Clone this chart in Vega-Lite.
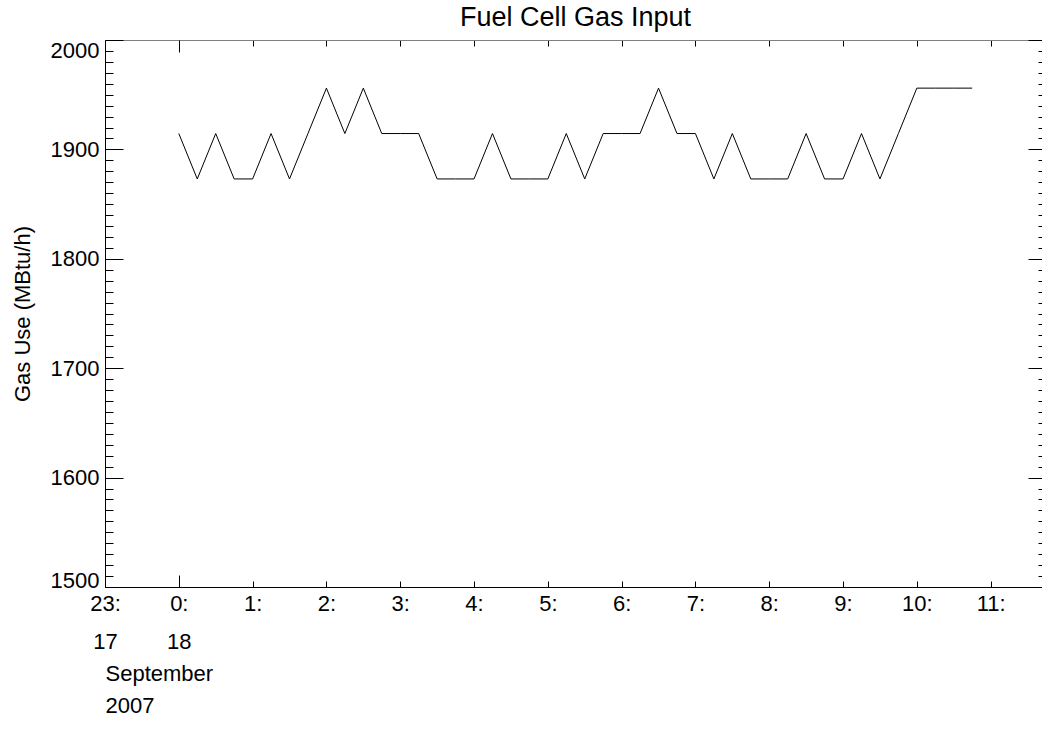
{
  "$schema": "https://vega.github.io/schema/vega-lite/v6.json",
  "width": 941,
  "height": 547,
  "autosize": {"type": "none"},
  "padding": {"left": 105, "top": 40, "right": -4, "bottom": 143},
  "background": "white",
  "title": {"text": "Fuel Cell Gas Input", "font": "Liberation Sans", "fontSize": 27, "fontWeight": "normal", "color": "black", "anchor": "middle", "frame": "group", "baseline": "alphabetic", "offset": -14},
  "config": {
    "view": {"stroke": null},
    "axis": {"labelFont": "Liberation Sans", "titleFont": "Liberation Sans", "labelColor": "black", "titleColor": "black", "domainColor": "black", "tickColor": "black", "grid": false, "labelFontSize": 22, "titleFontSize": 22, "titleFontWeight": "normal", "tickWidth": 1, "domainWidth": 1}
  },
  "data": {"values": [
    {"time": "2007-09-18T00:00", "gas": 1914.5},
    {"time": "2007-09-18T00:15", "gas": 1873},
    {"time": "2007-09-18T00:30", "gas": 1914.5},
    {"time": "2007-09-18T00:45", "gas": 1873},
    {"time": "2007-09-18T01:00", "gas": 1873},
    {"time": "2007-09-18T01:15", "gas": 1914.5},
    {"time": "2007-09-18T01:30", "gas": 1873},
    {"time": "2007-09-18T01:45", "gas": 1914.5},
    {"time": "2007-09-18T02:00", "gas": 1956},
    {"time": "2007-09-18T02:15", "gas": 1914.5},
    {"time": "2007-09-18T02:30", "gas": 1956},
    {"time": "2007-09-18T02:45", "gas": 1914.5},
    {"time": "2007-09-18T03:00", "gas": 1914.5},
    {"time": "2007-09-18T03:15", "gas": 1914.5},
    {"time": "2007-09-18T03:30", "gas": 1873},
    {"time": "2007-09-18T03:45", "gas": 1873},
    {"time": "2007-09-18T04:00", "gas": 1873},
    {"time": "2007-09-18T04:15", "gas": 1914.5},
    {"time": "2007-09-18T04:30", "gas": 1873},
    {"time": "2007-09-18T04:45", "gas": 1873},
    {"time": "2007-09-18T05:00", "gas": 1873},
    {"time": "2007-09-18T05:15", "gas": 1914.5},
    {"time": "2007-09-18T05:30", "gas": 1873},
    {"time": "2007-09-18T05:45", "gas": 1914.5},
    {"time": "2007-09-18T06:00", "gas": 1914.5},
    {"time": "2007-09-18T06:15", "gas": 1914.5},
    {"time": "2007-09-18T06:30", "gas": 1956},
    {"time": "2007-09-18T06:45", "gas": 1914.5},
    {"time": "2007-09-18T07:00", "gas": 1914.5},
    {"time": "2007-09-18T07:15", "gas": 1873},
    {"time": "2007-09-18T07:30", "gas": 1914.5},
    {"time": "2007-09-18T07:45", "gas": 1873},
    {"time": "2007-09-18T08:00", "gas": 1873},
    {"time": "2007-09-18T08:15", "gas": 1873},
    {"time": "2007-09-18T08:30", "gas": 1914.5},
    {"time": "2007-09-18T08:45", "gas": 1873},
    {"time": "2007-09-18T09:00", "gas": 1873},
    {"time": "2007-09-18T09:15", "gas": 1914.5},
    {"time": "2007-09-18T09:30", "gas": 1873},
    {"time": "2007-09-18T09:45", "gas": 1914.5},
    {"time": "2007-09-18T10:00", "gas": 1956},
    {"time": "2007-09-18T10:15", "gas": 1956},
    {"time": "2007-09-18T10:30", "gas": 1956},
    {"time": "2007-09-18T10:45", "gas": 1956}
  ]},
  "resolve": {"scale": {"x": "independent", "y": "independent"}, "axis": {"x": "independent", "y": "independent"}},
  "layer": [
    {
      "mark": {"type": "line", "color": "black", "strokeWidth": 1},
      "encoding": {
        "x": {"field": "time", "type": "temporal",
          "scale": {"domain": [{"year": 2007, "month": 9, "date": 17, "hours": 23}, {"year": 2007, "month": 9, "date": 18, "hours": 11, "minutes": 45}]},
          "axis": {"orient": "bottom",
            "values": [{"year": 2007, "month": 9, "date": 17, "hours": 23}, {"year": 2007, "month": 9, "date": 18, "hours": 0}, {"year": 2007, "month": 9, "date": 18, "hours": 1}, {"year": 2007, "month": 9, "date": 18, "hours": 2}, {"year": 2007, "month": 9, "date": 18, "hours": 3}, {"year": 2007, "month": 9, "date": 18, "hours": 4}, {"year": 2007, "month": 9, "date": 18, "hours": 5}, {"year": 2007, "month": 9, "date": 18, "hours": 6}, {"year": 2007, "month": 9, "date": 18, "hours": 7}, {"year": 2007, "month": 9, "date": 18, "hours": 8}, {"year": 2007, "month": 9, "date": 18, "hours": 9}, {"year": 2007, "month": 9, "date": 18, "hours": 10}, {"year": 2007, "month": 9, "date": 18, "hours": 11}],
            "tickSize": -6,
            "labelExpr": "(hours(datum.value) == 23 || hours(datum.value) == 0) ? [hours(datum.value) + ':', '' + date(datum.value)] : hours(datum.value) + ':'",
            "labelBaseline": "alphabetic", "labelLineHeight": 38, "labelPadding": 29, "labelAlign": "center",
            "labelOverlap": false, "labelBound": false, "labelFlush": false,
            "title": ["September", "2007"], "titleAnchor": "start", "titleAlign": "left", "titleBaseline": "top", "titleLineHeight": 32, "titlePadding": 11}},
        "y": {"field": "gas", "type": "quantitative",
          "scale": {"domain": [1500, 2000], "zero": false, "nice": false},
          "axis": {"orient": "left", "values": [1500, 1600, 1700, 1800, 1900, 2000], "tickSize": -18, "labelPadding": 24, "format": "d",
            "labelBaseline": {"condition": [{"test": "datum.value == 2000", "value": "top"}, {"test": "datum.value == 1500", "value": "alphabetic"}], "value": "middle"},
            "labelFlush": false, "labelOverlap": false, "labelBound": false,
            "title": "Gas Use (MBtu/h)", "titlePadding": 16}}
      }
    },
    {
      "mark": {"type": "line", "strokeOpacity": 0},
      "encoding": {
        "x": {"field": "time", "type": "temporal",
          "scale": {"domain": [{"year": 2007, "month": 9, "date": 17, "hours": 23}, {"year": 2007, "month": 9, "date": 18, "hours": 11, "minutes": 45}]},
          "axis": {"orient": "top",
            "values": [{"year": 2007, "month": 9, "date": 17, "hours": 23}, {"year": 2007, "month": 9, "date": 18, "hours": 0}, {"year": 2007, "month": 9, "date": 18, "hours": 1}, {"year": 2007, "month": 9, "date": 18, "hours": 2}, {"year": 2007, "month": 9, "date": 18, "hours": 3}, {"year": 2007, "month": 9, "date": 18, "hours": 4}, {"year": 2007, "month": 9, "date": 18, "hours": 5}, {"year": 2007, "month": 9, "date": 18, "hours": 6}, {"year": 2007, "month": 9, "date": 18, "hours": 7}, {"year": 2007, "month": 9, "date": 18, "hours": 8}, {"year": 2007, "month": 9, "date": 18, "hours": 9}, {"year": 2007, "month": 9, "date": 18, "hours": 10}, {"year": 2007, "month": 9, "date": 18, "hours": 11}],
            "tickSize": -6, "labels": false, "title": null, "domainColor": "#808080"}},
        "y": {"field": "gas", "type": "quantitative",
          "scale": {"domain": [1500, 2000], "zero": false, "nice": false},
          "axis": {"orient": "right", "values": [1500, 1600, 1700, 1800, 1900, 2000], "tickSize": -18, "labels": false, "title": null}}
      }
    },
    {
      "mark": {"type": "line", "strokeOpacity": 0},
      "encoding": {
        "x": {"field": "time", "type": "temporal",
          "scale": {"domain": [{"year": 2007, "month": 9, "date": 17, "hours": 23}, {"year": 2007, "month": 9, "date": 18, "hours": 11, "minutes": 45}]},
          "axis": {"orient": "bottom", "values": [{"year": 2007, "month": 9, "date": 18, "hours": 0}], "tickSize": -12, "labels": false, "domain": false, "title": null}},
        "y": {"field": "gas", "type": "quantitative",
          "scale": {"domain": [1500, 2000], "zero": false, "nice": false},
          "axis": {"orient": "left", "values": [1510, 1520, 1530, 1540, 1550, 1560, 1570, 1580, 1590, 1610, 1620, 1630, 1640, 1650, 1660, 1670, 1680, 1690, 1710, 1720, 1730, 1740, 1750, 1760, 1770, 1780, 1790, 1810, 1820, 1830, 1840, 1850, 1860, 1870, 1880, 1890, 1910, 1920, 1930, 1940, 1950, 1960, 1970, 1980, 1990], "tickSize": -8, "labels": false, "domain": false, "title": null}}
      }
    },
    {
      "mark": {"type": "line", "strokeOpacity": 0},
      "encoding": {
        "x": {"field": "time", "type": "temporal",
          "scale": {"domain": [{"year": 2007, "month": 9, "date": 17, "hours": 23}, {"year": 2007, "month": 9, "date": 18, "hours": 11, "minutes": 45}]},
          "axis": {"orient": "top", "values": [{"year": 2007, "month": 9, "date": 18, "hours": 0}], "tickSize": -12, "labels": false, "domain": false, "title": null}},
        "y": {"field": "gas", "type": "quantitative",
          "scale": {"domain": [1500, 2000], "zero": false, "nice": false},
          "axis": {"orient": "right", "values": [1510, 1520, 1530, 1540, 1550, 1560, 1570, 1580, 1590, 1610, 1620, 1630, 1640, 1650, 1660, 1670, 1680, 1690, 1710, 1720, 1730, 1740, 1750, 1760, 1770, 1780, 1790, 1810, 1820, 1830, 1840, 1850, 1860, 1870, 1880, 1890, 1910, 1920, 1930, 1940, 1950, 1960, 1970, 1980, 1990], "tickSize": -8, "labels": false, "domain": false, "title": null}}
      }
    }
  ]
}
